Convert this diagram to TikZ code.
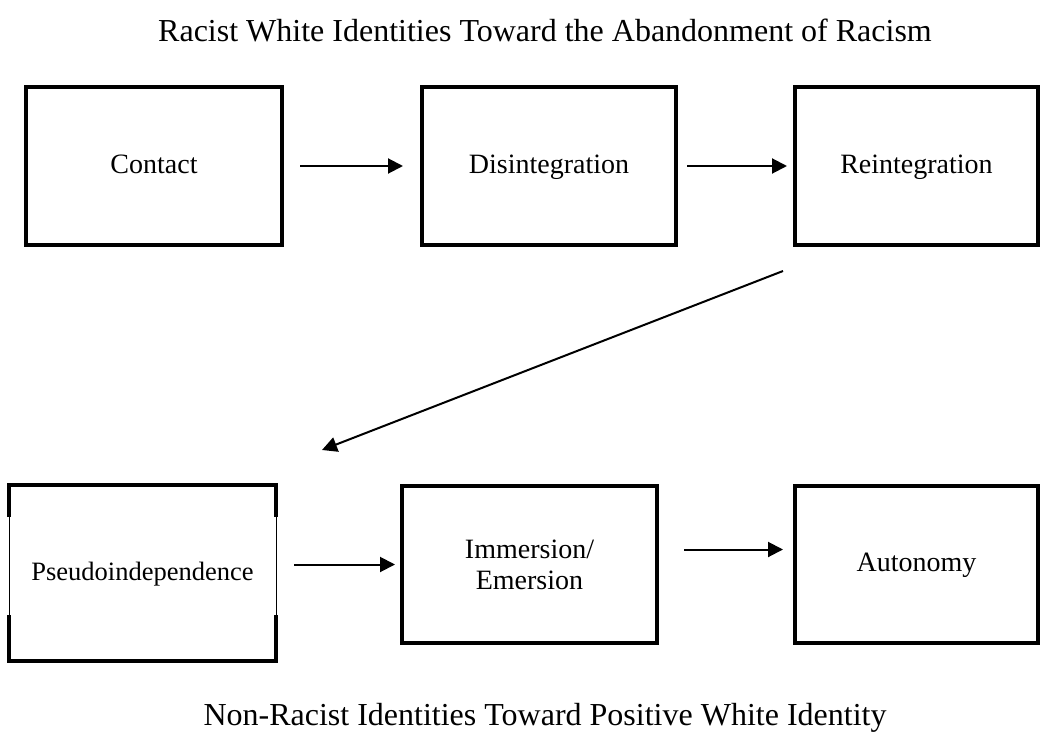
\documentclass[tikz,border=0pt]{standalone}
\usepackage{fontspec}
\setmainfont{Liberation Serif}
\usetikzlibrary{arrows.meta,calc,positioning}
\tikzset{>={Triangle[length=15pt,width=15pt]},
	stage/.style={% white identity stages as thick boxes
		draw, rectangle,
		line width=4.5pt,
		outer sep=0pt,
		minimum height=158pt,
		align=center,
		font=\fontsize{28}{31}\selectfont
	},
	oneline/.style={
		text height=20pt,
		text depth=6pt
	},
	step arrow/.style={
		->, line width=2pt,
		shorten <=18pt,
		shorten >=19pt
	},
	heading/.style={
		font=\fontsize{32}{36}\selectfont
	}
}

\begin{document}
\begin{tikzpicture}[x=1pt, y=-1pt]
		\useasboundingbox (0,0) rectangle (1044,733);
		\node[heading] (toptitle) at (545,30) {Racist White Identities Toward the Abandonment of Racism};

		% racist identities
		\node[stage, oneline, minimum width=256pt] (contact) at (154,166) {Contact};
		\node[stage, oneline, minimum width=254pt] (disint) [right=140pt of contact] {Disintegration};
		\node[stage, oneline, minimum width=243pt] (reint) [right=119pt of disint] {Reintegration};

		% non-racist identities
		\node[stage, oneline, draw=none, minimum width=267pt, minimum height=176pt,
			font=\fontsize{26.5}{30}\selectfont] (pseudo) at (142.5,573) {Pseudoindependence};
		\node[stage, minimum width=255pt, minimum height=157pt] (immers) at (529.5,564.5) {Immersion/\\Emersion};
		\node[stage, oneline, minimum width=243pt, minimum height=157pt] (auton) [right=138pt of immers] {Autonomy};

		\draw [line width=1pt] (pseudo.north west) rectangle (pseudo.south east);
		\draw [line width=4.5pt] ($(pseudo.north west)+(0,32)$) |- (pseudo.north east) -- ++(0,32);
		\draw [line width=4.5pt] ($(pseudo.south west)+(0,-46)$) |- (pseudo.south east) -- ++(0,-46);

		\node[heading] (bottitle) at (545,718) {Non-Racist Identities Toward Positive White Identity};

		\draw [step arrow] (contact) -- (disint);
		\draw [step arrow, shorten <=11pt, shorten >=8pt] (disint) -- (reint);
		\draw [->, line width=2pt] ($(reint.south west)+(-12,26)$) -- ($(pseudo.north east)+(46,-35)$);
		\draw [step arrow, shorten >=7pt] (immers.west -| pseudo.east) -- (immers.west);
		\draw [step arrow, shorten <=27pt, shorten >=12pt] ($(immers.east)+(0,-15)$) -- ($(auton.west)+(0,-15)$);
	\end{tikzpicture}
\end{document}
